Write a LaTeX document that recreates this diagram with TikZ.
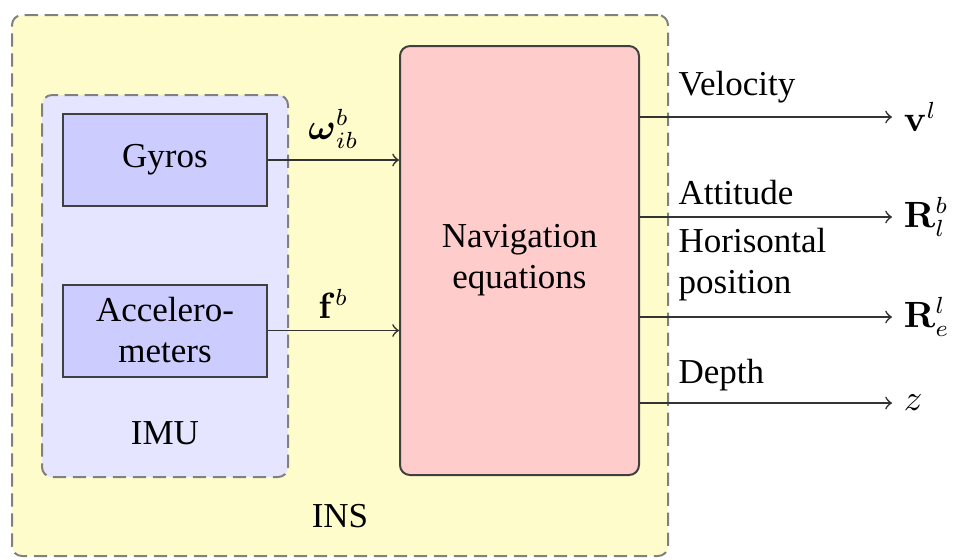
\documentclass[tikz,border=0pt]{standalone}
\usepackage{amsmath,amssymb}
\usepackage[no-math]{fontspec}
\setmainfont{Liberation Serif}
\usepackage{xcolor}
\usetikzlibrary{positioning}

\begin{document}
\begin{tikzpicture}[x=0.3pt, y=-0.3pt, font=\fontsize{10.5pt}{12.3pt}\selectfont,
	container/.style={draw=black!50, dash pattern=on 4pt off 2pt, line width=0.6pt, rounded corners=3pt},
	sensor/.style={draw=black!75, fill=blue!20, line width=0.6pt, minimum width=61.2pt, minimum height=27.6pt, align=center, inner sep=0pt},
	navbox/.style={draw=black!75, fill=red!20, line width=0.6pt, rounded corners=3pt, minimum width=71.7pt, minimum height=128.7pt, align=center},
	signal/.style={->, draw=black!80, line width=0.5pt},
	outtext/.style={inner sep=0pt, anchor=base west, align=left}]
	\useasboundingbox (0,0) rectangle (955,559);
	\node[container, fill=yellow!20, minimum width=196.8pt, minimum height=162.3pt] (INS) at (340,285.5) {};
	\node[container, fill=blue!10, minimum width=73.8pt, minimum height=114.6pt] (IMU) at (165,286) {};
	\node[above=2.3mm of IMU.south] (IMUname) {IMU};
	\node[above=1.8mm of INS.south] (INSname) {INS};
	
	\node[sensor] (Gyros) at (165,160) {Gyros};
	\node[sensor] (Acc) at (165,330.5) {Accelero-\\meters};
	\node[navbox] (Nav) at (519.5,260.5) {Navigation\\equations};
	
	\draw[signal] (Gyros) -- node[above] {$\boldsymbol{\omega}^b_{ib}$} (Gyros -| Nav.west);
	\draw[signal] (Acc) -- node[above] {$\mathbf{f}^b$} (Acc -| Nav.west);
	
	\coordinate (vel) at (892,117);
	\coordinate (att) at (892,217);
	\coordinate (pos) at (892,317);
	\coordinate (dep) at (892,403);
	\draw[signal] (Nav.east |- vel) -- (vel) node[right] {$\mathbf{v}^l$};
	\draw[signal] (Nav.east |- att) -- (att) node[right] {$\mathbf{R}_l^b$};
	\draw[signal] (Nav.east |- pos) -- (pos) node[right] {$\mathbf{R}_e^l$};
	\draw[signal] (Nav.east |- dep) -- (dep) node[right] {$z$};
	
	\node[outtext] (Velocity) at (678,95) {Velocity};
	\node[outtext] (Attitude) at (678,204) {Attitude};
	\node[outtext] (Position) at (678,293) {Horisontal\\position};
	\node[outtext] (Depth) at (678,383) {Depth};
\end{tikzpicture}
\end{document}
